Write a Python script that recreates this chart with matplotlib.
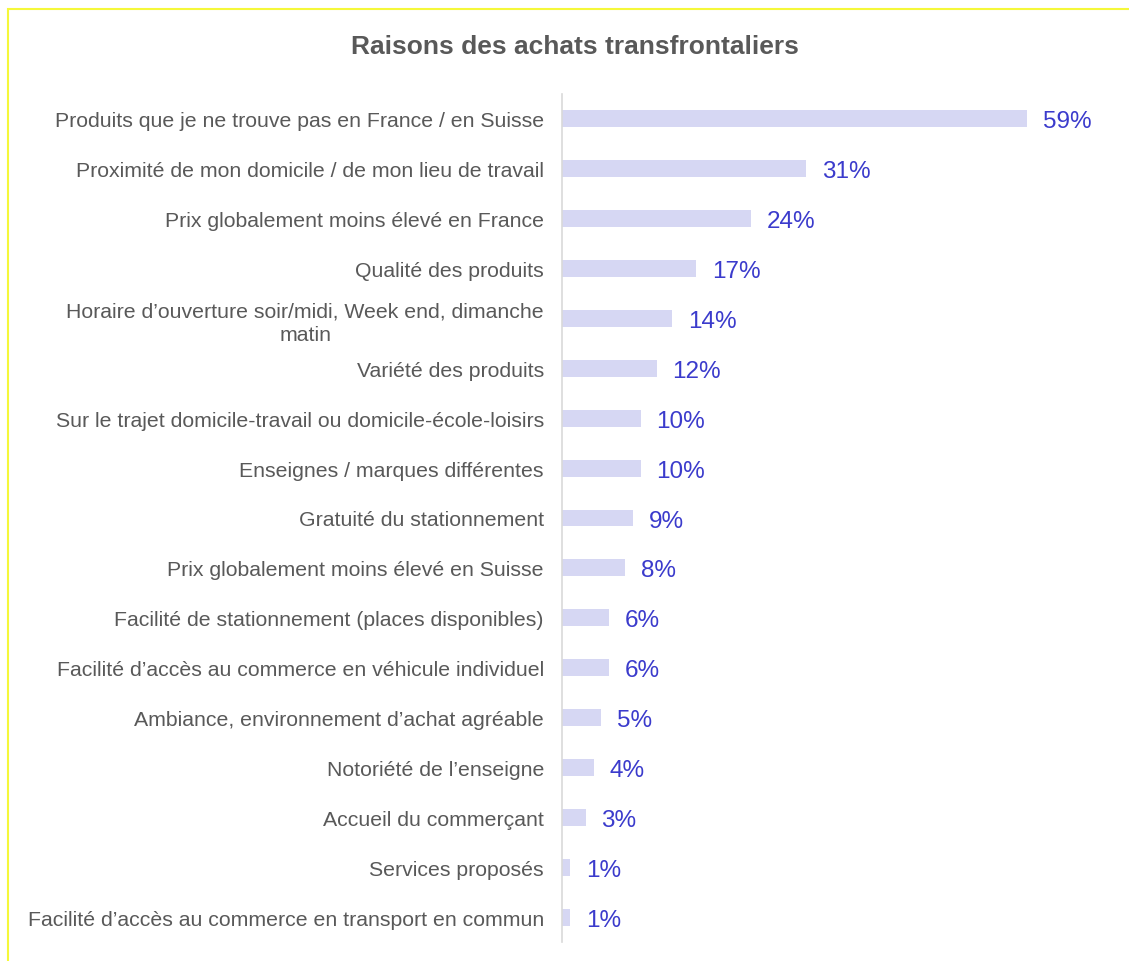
import matplotlib.pyplot as plt
from matplotlib.patches import Rectangle

plt.rcParams['font.family'] = ['Liberation Sans', 'DejaVu Sans']

raisons = [
    "Produits que je ne trouve pas en France / en Suisse",
    "Proximité de mon domicile / de mon lieu de travail",
    "Prix globalement moins élevé en France",
    "Qualité des produits",
    "Horaire d\u2019ouverture soir/midi, Week end, dimanche\nmatin",
    "Variété des produits",
    "Sur le trajet domicile-travail ou domicile-école-loisirs",
    "Enseignes / marques différentes",
    "Gratuité du stationnement",
    "Prix globalement moins élevé en Suisse",
    "Facilité de stationnement (places disponibles)",
    "Facilité d\u2019accès au commerce en véhicule individuel",
    "Ambiance, environnement d\u2019achat agréable",
    "Notoriété de l\u2019enseigne",
    "Accueil du commerçant",
    "Services proposés",
    "Facilité d\u2019accès au commerce en transport en commun",
]
pourcentages = [59, 31, 24, 17, 14, 12, 10, 10, 9, 8, 6, 6, 5, 4, 3, 1, 1]

W, H = 1129, 962
fig = plt.figure(figsize=(W / 100, H / 100), dpi=100)

# cadre jaune (haut et gauche seulement visibles)
fig.patches.append(Rectangle((8 / W, -0.05), 1.2, 1 - 10 / H + 0.05,
                             transform=fig.transFigure, fill=False,
                             edgecolor='#f5f83a', linewidth=1.5))

ax = fig.add_axes([562 / W, 1 - 943 / H, 558 / W, 848 / H])
y = list(range(len(raisons)))
ax.barh(y, pourcentages, height=0.34, color='#d6d7f3')
ax.set_ylim(len(raisons) - 0.5, -0.5)
ax.set_xlim(0, 558 / 7.88)

for yi, v in zip(y, pourcentages):
    ax.text(v + 2.0, yi, f"{v}%", va='center_baseline', ha='left',
            fontsize=17.5, color='#3b3bcc')

ax.set_yticks(y)
ax.set_yticklabels(raisons, fontsize=15.3, color='#595959',
                   multialignment='center', linespacing=1.3)
ax.tick_params(axis='y', length=0, pad=13)
ax.set_xticks([])
for s in ['top', 'right', 'bottom']:
    ax.spines[s].set_visible(False)
ax.spines['left'].set_color('#d9d9d9')
ax.spines['left'].set_linewidth(1.2)

fig.text(575 / W, 1 - 47 / H, "Raisons des achats transfrontaliers",
         ha='center', va='center', fontsize=19, fontweight='bold',
         color='#595959')

fig.savefig("out.png", dpi=100)
